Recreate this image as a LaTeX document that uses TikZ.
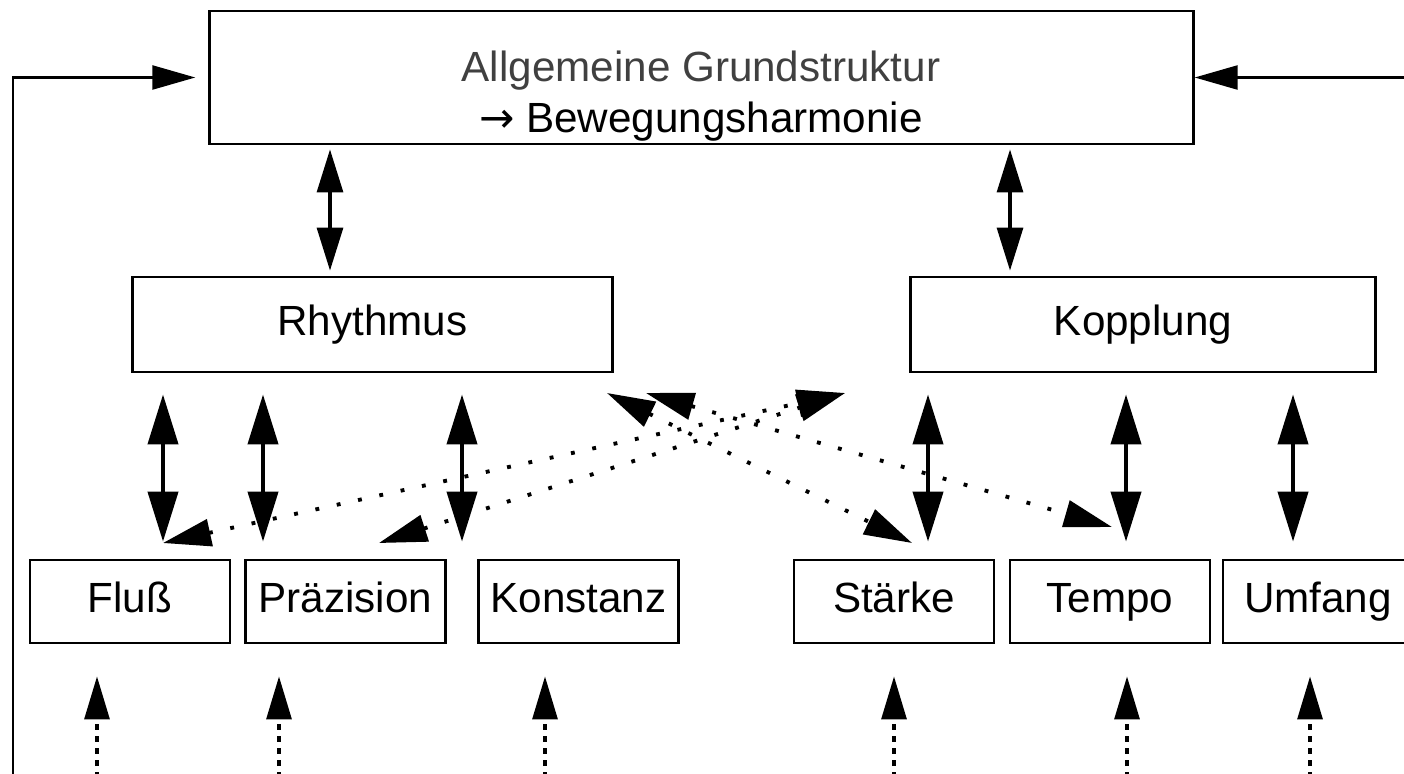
\documentclass[tikz,border=0pt]{standalone}
\usepackage{fontspec}
\setmainfont{Liberation Sans}
\newfontfamily\arrowfont{DejaVu Sans}
\usepackage{tikz}
\usepackage{xcolor}
\usetikzlibrary{arrows.meta}

\begin{document}
\begin{tikzpicture}[x=0.01cm, y=-0.01cm,
        box/.style={draw, line width=0.8pt, inner sep=0pt, minimum height=0.83cm,
            text height=0.31cm, text depth=0.09cm, font=\fontsize{12}{14.5}\selectfont},
        updown/.style={{Triangle[length=0.43cm,width=0.26cm]}-{Triangle[length=0.43cm,width=0.26cm]},
            line width=0.9pt, shorten <=0.04cm, shorten >=0.05cm},
        bigupdown/.style={{Triangle[length=0.5cm,width=0.3cm]}-{Triangle[length=0.5cm,width=0.3cm]},
            line width=1.2pt, shorten <=0.21cm, shorten >=0.17cm},
        cross/.style={{Triangle[length=0.48cm,width=0.27cm]}-{Triangle[length=0.48cm,width=0.27cm]},
            line width=1.1pt, dash pattern=on 1.1pt off 5.1pt},
        inflow/.style={-{Triangle[length=0.43cm,width=0.25cm]}, line width=0.9pt,
            dash pattern=on 0.06cm off 0.06cm, shorten >=0.32cm},
        feed/.style={-{Triangle[length=0.43cm,width=0.24cm]}, line width=0.7pt}]
                \useasboundingbox (0,0) rectangle (1404,773);
                \coordinate (corner) at (1420,790);
                % Kaesten
                \node[box, minimum width=9.83cm, minimum height=1.33cm] (grund) at (701.5,77.5) {};
                \node[align=center, inner sep=0pt, font=\fontsize{12}{14.5}\selectfont] (grundtext) at (701,96)
                    {\textcolor{black!75}{Allgemeine Grundstruktur}\\{\arrowfont →} Bewegungsharmonie};
                \node[box, minimum width=4.79cm, minimum height=0.95cm] (rhythmus) at (372.5,324.5) {Rhythmus};
                \node[box, minimum width=4.64cm, minimum height=0.95cm] (kopplung) at (1143,324.5) {Kopplung};
                \node[box, minimum width=2cm] (fluss) at (130,601.5) {Fluß};
                \node[box, minimum width=2cm] (praezision) at (345.5,601.5) {Präzision};
                \node[box, minimum width=2cm] (konstanz) at (578.5,601.5) {Konstanz};
                \node[box, minimum width=2cm] (staerke) at (894,601.5) {Stärke};
                \node[box, minimum width=2cm] (tempo) at (1110,601.5) {Tempo};
                \node[box, minimum width=1.9cm] (umfang) at (1318,601.5) {Umfang};
                % Rueckkopplung
                \draw[feed, shorten >=0.13cm] (corner -| 13,0) |- (grund.west);
                \draw[feed] (grund.east -| corner) -- (grund.east);
                % Pfeile
                \draw[updown] (grund.south -| 330,0) -- (rhythmus.north -| 330,0);
                \draw[updown] (grund.south -| 1010,0) -- (kopplung.north -| 1010,0);
                \foreach \x/\n in {163/fluss, 263/praezision, 462/konstanz}
                    \draw[bigupdown] (rhythmus.south -| \x,0) -- (\n.north -| \x,0);
                \foreach \x/\n in {928/staerke, 1126/tempo, 1293/umfang}
                    \draw[bigupdown] (kopplung.south -| \x,0) -- (\n.north -| \x,0);
                % Querbeziehungen
                \coordinate (flusstip) at (163,543);
                \coordinate (praetip) at (379,543);
                \coordinate (koptip) at (845,393);
                \coordinate (rhytipa) at (607,393);
                \coordinate (rhytipb) at (646,393);
                \coordinate (staerketip) at (912,543);
                \coordinate (tempotip) at (1112,527);
                \draw[cross] (flusstip) -- (koptip);
                \draw[cross] (praetip) -- (koptip);
                \draw[cross] (rhytipa) -- (staerketip);
                \draw[cross] (rhytipb) -- (tempotip);
                % Einfluesse von unten
                \foreach \x/\n in {97/fluss, 279/praezision, 545/konstanz, 894/staerke, 1127/tempo, 1310/umfang}
                    \draw[inflow] (corner -| \x,0) -- (\n.south -| \x,0);
            \end{tikzpicture}
\end{document}
